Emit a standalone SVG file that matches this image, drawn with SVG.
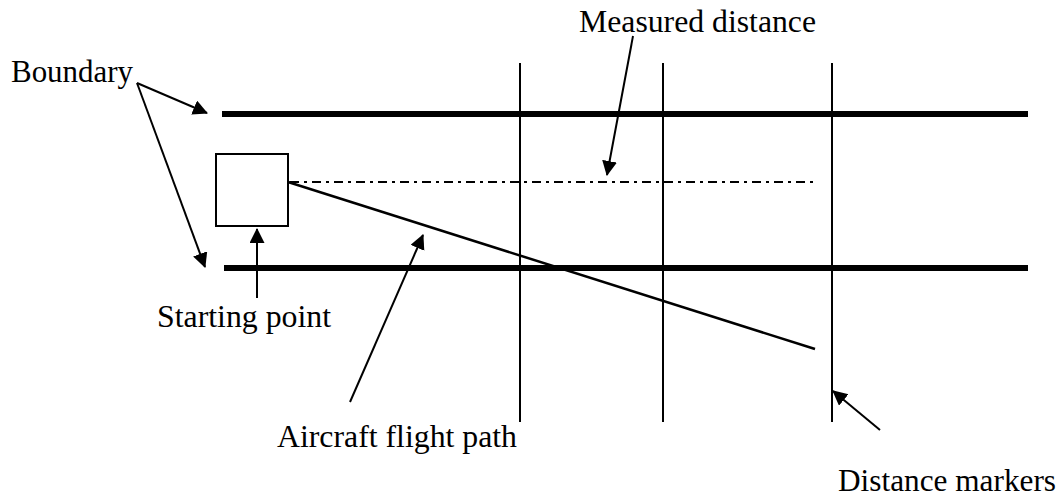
<svg xmlns="http://www.w3.org/2000/svg" width="1062" height="498" viewBox="0 0 1062 498">
  <style>
    .lbl { font-family: "Liberation Serif", "Times New Roman", serif; font-size: 32px; fill: #000; }
    .thin { stroke: #000; stroke-width: 2; fill: none; }
    .bound { stroke: #000; stroke-width: 6; fill: none; }
    .path { stroke: #000; stroke-width: 2.5; fill: none; }
    .dashdot { stroke: #000; stroke-width: 2; fill: none; stroke-dasharray: 9 5 3 5; }
    .arrow { stroke: #000; stroke-width: 2; fill: none; marker-end: url(#ah); }
  </style>
  <defs>
    <marker id="ah" markerUnits="userSpaceOnUse" markerWidth="16" markerHeight="16" refX="14" refY="7.5" orient="auto">
      <path d="M0,0 L15,7.5 L0,15 z" fill="#000"/>
    </marker>
  </defs>
  <rect width="1062" height="498" fill="#fff"/>

  <g id="boundary-top"><line class="bound" x1="222" y1="114" x2="1028" y2="114"/></g>
  <g id="boundary-bottom"><line class="bound" x1="224" y1="268" x2="1028" y2="268"/></g>
  <g id="marker-1"><line class="thin" x1="520" y1="63" x2="520" y2="422"/></g>
  <g id="marker-2"><line class="thin" x1="663" y1="63" x2="663" y2="422"/></g>
  <g id="marker-3"><line class="thin" x1="832" y1="63" x2="832" y2="422"/></g>
  <g id="measured-line"><line class="dashdot" x1="290" y1="182" x2="815" y2="182"/></g>
  <g id="flight-path"><line class="path" x1="288" y1="182" x2="815" y2="349"/></g>
  <g id="start-box"><rect class="thin" x="216" y="154" width="72" height="72" fill="#fff"/></g>

  <g id="label-boundary"><text class="lbl" x="11" y="82" textLength="122" lengthAdjust="spacingAndGlyphs">Boundary</text></g>
  <g id="label-measured"><text class="lbl" x="579" y="32" textLength="237" lengthAdjust="spacingAndGlyphs">Measured distance</text></g>
  <g id="label-start"><text class="lbl" x="157" y="327" textLength="174" lengthAdjust="spacingAndGlyphs">Starting point</text></g>
  <g id="label-flight"><text class="lbl" x="277" y="447" textLength="240" lengthAdjust="spacingAndGlyphs">Aircraft flight path</text></g>
  <g id="label-markers"><text class="lbl" x="838" y="491" textLength="218" lengthAdjust="spacingAndGlyphs">Distance markers</text></g>

  <g id="connectors">
    <line class="arrow" x1="137" y1="83" x2="207" y2="113"/>
    <line class="arrow" x1="137" y1="83" x2="205" y2="267"/>
    <line class="arrow" x1="633" y1="36" x2="607" y2="175"/>
    <line class="arrow" x1="257" y1="298" x2="257" y2="229"/>
    <line class="arrow" x1="350" y1="402" x2="423" y2="235"/>
    <line class="arrow" x1="880" y1="430" x2="833" y2="391"/>
  </g>
</svg>
